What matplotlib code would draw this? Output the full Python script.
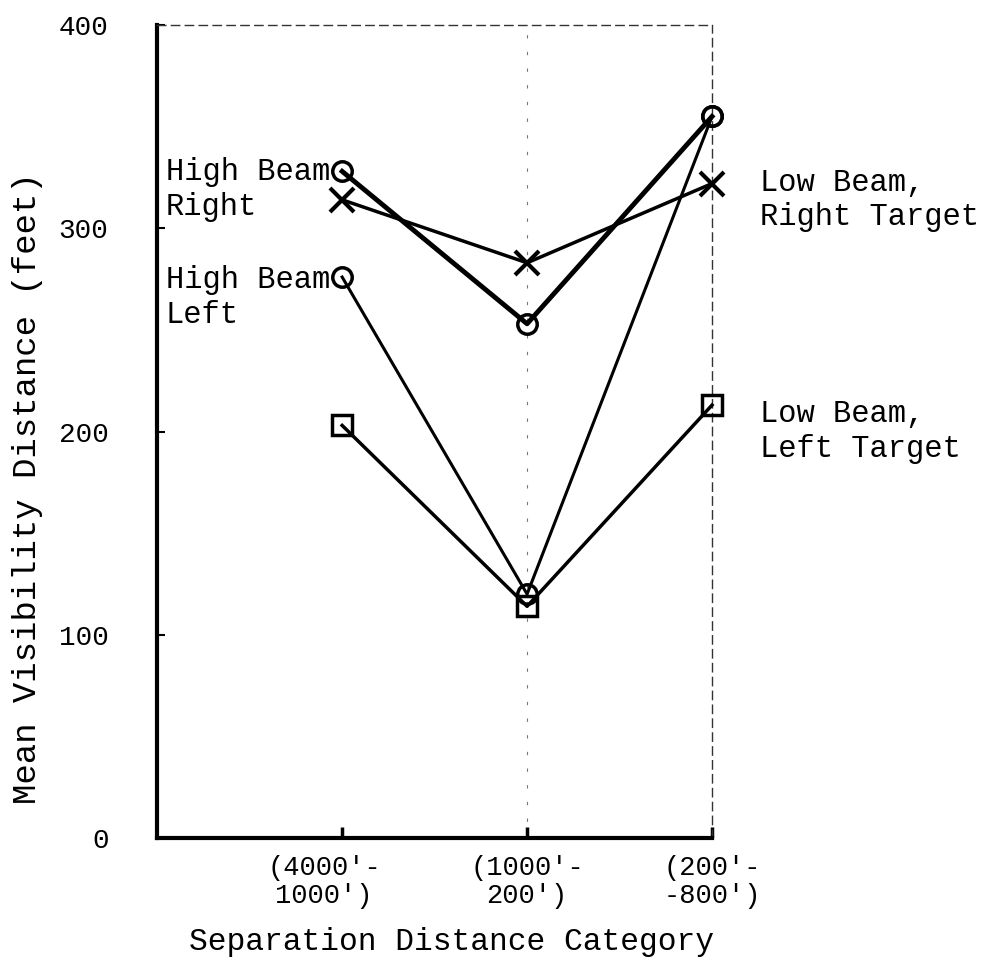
import matplotlib
matplotlib.use("Agg")
import matplotlib.pyplot as plt
from matplotlib.transforms import ScaledTranslation

plt.rcParams['font.family'] = ['Liberation Mono', 'DejaVu Sans Mono']

categories = ["(4000'-\n1000')", "(1000'-\n200')", "(200'-\n-800')"]
high_beam_right = [328, 253, 355]
high_beam_left = [276, 120, 355]
low_beam_right = [314, 283, 322]
low_beam_left = [203, 114, 213]
yticks = [0, 100, 200, 300, 400]

fig = plt.figure(figsize=(9.95, 9.73), dpi=100)
ax = fig.add_axes([0.158, 0.1387, 0.7156 - 0.158, 0.9743 - 0.1387])

x = [1, 2, 3]
ax.plot(x, high_beam_left, color='black', lw=2.2, marker='o', ms=14,
        mfc='none', mew=2.5, zorder=3, clip_on=False)
ax.plot(x, low_beam_left, color='black', lw=2.5, marker='s', ms=14,
        mfc='none', mew=2.5, zorder=3, clip_on=False)
ax.plot(x, low_beam_right, color='black', lw=2.5, marker='x', ms=17,
        mew=3, zorder=3, clip_on=False)
ax.plot(x, high_beam_right, color='black', lw=3.5, marker='o', ms=14,
        mfc='none', mew=2.5, zorder=3, clip_on=False)

ax.set_xlim(0, 3)
ax.set_ylim(0, 400)
ax.set_yticks(yticks)
ax.set_yticklabels([str(v) for v in yticks], fontsize=20)
ax.set_xticks(x)
ax.set_xticklabels(categories, fontsize=19.5, linespacing=1.1)
ax.tick_params(axis='y', direction='in', length=6, width=1.5, pad=35)
ax.tick_params(axis='x', direction='in', length=8, width=2.5, pad=12)
off = ScaledTranslation(-18 / 100, 0, fig.dpi_scale_trans)
lbl = ax.get_xticklabels()[0]
lbl.set_transform(lbl.get_transform() + off)

for s in ['left', 'bottom']:
    ax.spines[s].set_linewidth(3)
for s in ['top', 'right']:
    ax.spines[s].set_linewidth(1)
    ax.spines[s].set_linestyle((0, (6, 4)))
    ax.spines[s].set_color('#333333')
ax.axvline(2, color='#777777', lw=0.8, ls=(0, (3, 12)), zorder=1)

ax.set_ylabel("Mean Visibility Distance (feet)", fontsize=24.5)
ax.yaxis.set_label_coords(-0.205, 0.43)
ax.set_xlabel("Separation Distance Category", fontsize=22.5)
ax.xaxis.set_label_coords(0.53, -0.11)

ax.text(0.045, 319, "High Beam\nRight", fontsize=22, va='center', ha='left',
        linespacing=1.2)
ax.text(0.045, 266, "High Beam\nLeft", fontsize=22, va='center', ha='left',
        linespacing=1.2)
ax.text(3.26, 314, "Low Beam,\nRight Target", fontsize=22, va='center',
        ha='left', linespacing=1.2, clip_on=False)
ax.text(3.26, 200, "Low Beam,\nLeft Target", fontsize=22, va='center',
        ha='left', linespacing=1.2, clip_on=False)

fig.savefig("out.png", dpi=100, facecolor='white')
